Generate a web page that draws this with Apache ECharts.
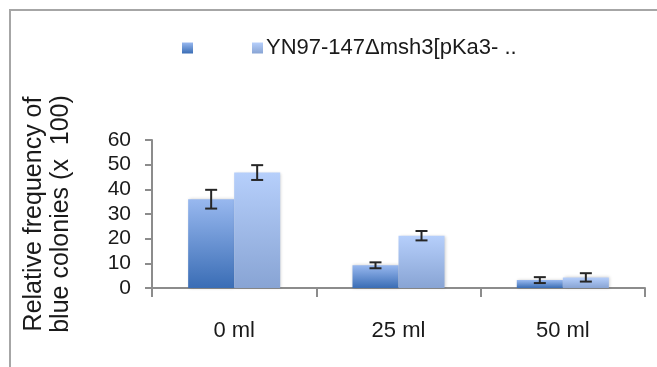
<!DOCTYPE html>
<html>
<head>
<meta charset="utf-8">
<script src="https://cdn.jsdelivr.net/npm/echarts@6/dist/echarts.min.js"></script>
<style>
html,body{margin:0;padding:0;background:#fff;}
#chart{width:657px;height:367px;}
</style>
</head>
<body>
<div id="chart"></div>
<script>
var categories = ['0 ml', '25 ml', '50 ml'];
var seriesNames = [' ', 'YN97-147\u0394msh3[pKa3- ..'];
var series1Values = [36, 9.2, 3.2];
var series1Errors = [3.8, 1.2, 1.2];
var series2Values = [46.8, 21.2, 4.3];
var series2Errors = [3.0, 1.9, 1.7];
var yTicks = [0, 10, 20, 30, 40, 50, 60];

var chart = echarts.init(document.getElementById('chart'));
var fontFam = '"Liberation Sans", Arial, sans-serif';

function grad(bottom, top) {
  return new echarts.graphic.LinearGradient(0, 1, 0, 0, [
    {offset: 0, color: bottom}, {offset: 1, color: top}
  ]);
}

var gapPct = 0.44;
function errSeries(values, errors, sign) {
  var data = values.map(function (v, i) { return [i, v, errors[i]]; });
  return {
    type: 'custom',
    silent: true,
    z: 10,
    data: data,
    renderItem: function (params, api) {
      var i = api.value(0), v = api.value(1), e = api.value(2);
      var band = api.size([1, 0])[0];
      var off = sign * band * (1 - gapPct) / 4;
      var top = api.coord([i, v + e]);
      var bot = api.coord([i, v - e]);
      var x = top[0] + off;
      var cap = 6;
      var st = {stroke: '#262626', lineWidth: 2};
      return {
        type: 'group',
        children: [
          {type: 'line', shape: {x1: x, y1: top[1], x2: x, y2: bot[1]}, style: st},
          {type: 'line', shape: {x1: x - cap, y1: top[1], x2: x + cap, y2: top[1]}, style: st},
          {type: 'line', shape: {x1: x - cap, y1: bot[1], x2: x + cap, y2: bot[1]}, style: st}
        ]
      };
    }
  };
}

var option = {
  animation: false,
  backgroundColor: '#fff',
  graphic: [{
    type: 'rect',
    shape: {x: 10, y: 10, width: 700, height: 400},
    style: {fill: 'none', stroke: '#a6a6a6', lineWidth: 2},
    silent: true
  }],
  legend: [{
    data: [seriesNames[0]],
    left: 177, top: 32,
    icon: 'rect', itemWidth: 11, itemHeight: 11,
    textStyle: {fontFamily: fontFam, fontSize: 22, color: '#1a1a1a'}
  }, {
    data: [seriesNames[1]],
    left: 247, top: 32,
    icon: 'rect', itemWidth: 11, itemHeight: 11, itemGap: 4,
    textStyle: {fontFamily: fontFam, fontSize: 22, color: '#1a1a1a', padding: [0, 0, 0, -2]}
  }],
  grid: {left: 152, right: 12, top: 140, bottom: 79, containLabel: false},
  xAxis: {
    type: 'category',
    data: categories,
    boundaryGap: true,
    axisLine: {lineStyle: {color: '#8c8c8c', width: 2}},
    axisTick: {show: true, length: 9, lineStyle: {color: '#8c8c8c', width: 2}},
    axisLabel: {margin: 32, fontFamily: fontFam, fontSize: 22, color: '#1a1a1a'}
  },
  yAxis: {
    type: 'value',
    min: yTicks[0], max: yTicks[yTicks.length - 1], interval: 10,
    name: 'Relative frequency of\nblue colonies (x  100)',
    nameLocation: 'middle',
    nameRotate: 90,
    nameGap: 77,
    nameTextStyle: {fontFamily: fontFam, fontSize: 25, color: '#1a1a1a', lineHeight: 27},
    axisLine: {show: true, lineStyle: {color: '#8c8c8c', width: 2}},
    axisTick: {show: true, length: 7, lineStyle: {color: '#8c8c8c', width: 2}},
    splitLine: {show: false},
    axisLabel: {margin: 21, fontFamily: fontFam, fontSize: 21, color: '#1a1a1a'}
  },
  series: [{
    name: seriesNames[0],
    type: 'bar',
    data: series1Values,
    barGap: '0%',
    barCategoryGap: '44%',
    itemStyle: {color: grad('#3a6db5', '#98b8ef'), shadowBlur: 3, shadowColor: 'rgba(0,0,0,0.2)', shadowOffsetX: 1}
  }, {
    name: seriesNames[1],
    type: 'bar',
    data: series2Values,
    barGap: '0%',
    barCategoryGap: '44%',
    itemStyle: {color: grad('#88a4d4', '#b6cffb'), shadowBlur: 3, shadowColor: 'rgba(0,0,0,0.2)', shadowOffsetX: 1}
  },
  errSeries(series1Values, series1Errors, -1),
  errSeries(series2Values, series2Errors, 1)
  ]
};
chart.setOption(option);
</script>
</body>
</html>
